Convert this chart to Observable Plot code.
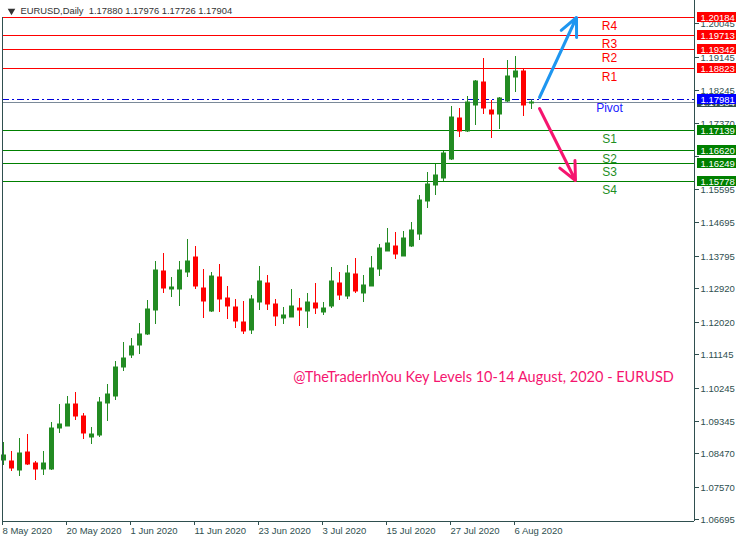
<!DOCTYPE html>
<html>
<head>
<meta charset="utf-8">
<script src="https://cdn.jsdelivr.net/npm/d3@7"></script>
<script src="https://cdn.jsdelivr.net/npm/@observablehq/plot@0.6"></script>
<style>
  html, body { margin: 0; padding: 0; background: #ffffff; }
  #chart { width: 740px; height: 542px; }
</style>
</head>
<body>
<div id="chart"></div>
<script>
// ---- data ----
const symbol = "EURUSD,Daily";
const dates = [
  "2020-05-08","2020-05-11","2020-05-12","2020-05-13","2020-05-14","2020-05-15",
  "2020-05-18","2020-05-19","2020-05-20","2020-05-21","2020-05-22",
  "2020-05-25","2020-05-26","2020-05-27","2020-05-28","2020-05-29",
  "2020-06-01","2020-06-02","2020-06-03","2020-06-04","2020-06-05",
  "2020-06-08","2020-06-09","2020-06-10","2020-06-11","2020-06-12",
  "2020-06-15","2020-06-16","2020-06-17","2020-06-18","2020-06-19",
  "2020-06-22","2020-06-23","2020-06-24","2020-06-25","2020-06-26",
  "2020-06-29","2020-06-30","2020-07-01","2020-07-02","2020-07-03",
  "2020-07-06","2020-07-07","2020-07-08","2020-07-09","2020-07-10",
  "2020-07-13","2020-07-14","2020-07-15","2020-07-16","2020-07-17",
  "2020-07-20","2020-07-21","2020-07-22","2020-07-23","2020-07-24",
  "2020-07-27","2020-07-28","2020-07-29","2020-07-30","2020-07-31",
  "2020-08-03","2020-08-04","2020-08-05","2020-08-06","2020-08-07",
  "2020-08-10"
];
const open = [
  1.0827,1.0824,1.0801,1.0848,1.0819,1.0803,
  1.0803,1.0914,1.0918,1.0978,1.0945,
  1.0890,1.0895,1.0981,1.1000,1.1076,
  1.1110,1.1135,1.1167,1.1231,1.1336,
  1.1288,1.1288,1.1334,1.1373,1.1290,
  1.1229,1.1319,1.1263,1.1239,1.1198,
  1.1178,1.1253,1.1303,1.1247,1.1210,
  1.1213,1.1236,1.1229,1.1249,1.1226,
  1.1240,1.1303,1.1269,1.1327,1.1277,
  1.1296,1.1342,1.1390,1.1403,1.1377,
  1.1404,1.1436,1.1525,1.1568,1.1587,
  1.1638,1.1747,1.1713,1.1782,1.1844,
  1.1769,1.1759,1.1793,1.1858,1.1874,
  1.17880
];
const high = [
  1.0875,1.0852,1.0886,1.0897,1.0824,1.0851,
  1.0929,1.0978,1.0999,1.1010,1.0953,
  1.0916,1.0996,1.1031,1.1093,1.1144,
  1.1155,1.1196,1.1257,1.1362,1.1384,
  1.1319,1.1362,1.1422,1.1403,1.1341,
  1.1333,1.1354,1.1295,1.1260,1.1256,
  1.1271,1.1349,1.1325,1.1260,1.1239,
  1.1287,1.1263,1.1276,1.1303,1.1252,
  1.1346,1.1333,1.1352,1.1371,1.1325,
  1.1376,1.1408,1.1451,1.1441,1.1443,
  1.1467,1.1540,1.1602,1.1624,1.1659,
  1.1780,1.1774,1.1807,1.1850,1.1909,
  1.1796,1.1804,1.1904,1.1914,1.1879,
  1.17976
];
const low = [
  1.0814,1.0798,1.0785,1.0812,1.0774,1.0787,
  1.0801,1.0900,1.0917,1.0935,1.0884,
  1.0871,1.0890,1.0933,1.0989,1.1067,
  1.1100,1.1113,1.1164,1.1194,1.1277,
  1.1266,1.1240,1.1320,1.1288,1.1210,
  1.1226,1.1226,1.1205,1.1183,1.1167,
  1.1167,1.1231,1.1231,1.1188,1.1194,
  1.1213,1.1188,1.1183,1.1221,1.1218,
  1.1237,1.1258,1.1261,1.1277,1.1253,
  1.1296,1.1323,1.1390,1.1369,1.1377,
  1.1401,1.1420,1.1506,1.1539,1.1579,
  1.1635,1.1697,1.1711,1.1729,1.1759,
  1.1694,1.1719,1.1790,1.1816,1.1754,
  1.17726
];
const close = [
  1.0839,1.0806,1.0846,1.0817,1.0803,1.0819,
  1.0913,1.0924,1.0978,1.0946,1.0900,
  1.0897,1.0983,1.1004,1.1077,1.1101,
  1.1134,1.1166,1.1233,1.1338,1.1291,
  1.1292,1.1338,1.1362,1.1296,1.1256,
  1.1322,1.1261,1.1242,1.1202,1.1175,
  1.1260,1.1309,1.1248,1.1215,1.1217,
  1.1241,1.1231,1.1252,1.1237,1.1236,
  1.1309,1.1272,1.1330,1.1283,1.1298,
  1.1344,1.1397,1.1411,1.1382,1.1424,
  1.1446,1.1527,1.1570,1.1594,1.1653,
  1.1750,1.1713,1.1790,1.1847,1.1773,
  1.1759,1.1801,1.1860,1.1874,1.1783,
  1.17904
];

const xTickDates  = ["2020-05-08","2020-05-20","2020-06-01","2020-06-11","2020-06-23","2020-07-03","2020-07-15","2020-07-27","2020-08-06"];
const xTickLabels = ["8 May 2020","20 May 2020","1 Jun 2020","11 Jun 2020","23 Jun 2020","3 Jul 2020","15 Jul 2020","27 Jul 2020","6 Aug 2020"];
const yTicks = [1.20045,1.19145,1.18245,1.17370,1.16470,1.15595,1.14695,1.13795,1.12920,1.12020,1.11145,1.10245,1.09345,1.08470,1.07570,1.06695];
const yTicksUnlabelled = [1.16470]; // covered by the level boxes in the reference

const levelNames  = ["R4","R3","R2","R1","Pivot","S1","S2","S3","S4"];
const levelValues = [1.20184,1.19713,1.19342,1.18823,1.17981,1.17139,1.16620,1.16249,1.15778];
const levelKinds  = ["R","R","R","R","P","S","S","S","S"];

const bidPrice = close[close.length - 1];

// arrows: [bar position, price] of tail and tip
const arrowNames   = ["up", "down"];
const arrowFromBar = [67.0, 67.0];
const arrowFromPx  = [1.18052, 1.17743];
const arrowToBar   = [71.6, 71.5];
const arrowToPx    = [1.20192, 1.15804];

const caption = "@TheTraderInYou Key Levels 10-14 August, 2020 - EURUSD";

// ---- styling ----
const UP = "#228b22", DOWN = "#ff0000";
const kindLine = {R: "#ff0000", P: "#0000dd", S: "#008000"};
const kindText = {R: "#ff0000", P: "#2020ff", S: "#1f8f1f"};
const kindBox  = {R: "#ff0000", P: "#0000ff", S: "#008000"};
const arrowColor = {up: "#1e96f0", down: "#f5156f"};
const AXIS = "#2f4f4f";
const FONT = "Liberation Sans, Arial, sans-serif";

const bars = dates.map((d, i) => ({i, date: d, open: open[i], high: high[i], low: low[i], close: close[i]}));
const levels = levelNames.map((n, k) => ({name: n, value: levelValues[k], kind: levelKinds[k]}));
const arrows = arrowNames.map((n, k) => ({name: n, x1: arrowFromBar[k], y1: arrowFromPx[k], x2: arrowToBar[k], y2: arrowToPx[k]}));
const xTicks = xTickDates.map(d => dates.indexOf(d));
const xLabelOf = new Map(xTicks.map((t, k) => [t, xTickLabels[k]]));
const colorOf = d => d.close >= d.open ? UP : DOWN;
const fmt5 = d3.format(".5f");

const xDomain = [-0.125, 86.375];
const yDomain = [1.066255, 1.206497];

const chart = Plot.plot({
  width: 740,
  height: 542,
  marginLeft: 2,
  marginRight: 46,
  marginTop: 0,
  marginBottom: 21,
  x: {type: "linear", domain: xDomain, axis: null, round: true},
  y: {type: "linear", domain: yDomain, axis: null, round: true},
  color: {type: "identity"},
  style: {background: "#ffffff", color: AXIS, fontFamily: FONT, fontSize: "9.5px"},
  marks: [
    // axes
    Plot.axisY(yTicks, {anchor: "right", tickSize: 4, tickPadding: 2,
      tickFormat: d => yTicksUnlabelled.includes(d) ? "" : fmt5(d),
      fontSize: 9.5, fontFamily: FONT, dy: 1, stroke: AXIS, fill: AXIS}),
    Plot.axisX(xTicks, {anchor: "bottom", tickSize: 4, tickPadding: 2, tickFormat: t => xLabelOf.get(t),
      textAnchor: "start", dx: -1, fontSize: 9.5, fontFamily: FONT, stroke: AXIS, fill: AXIS}),
    // level lines
    Plot.ruleY(levels.filter(d => d.kind !== "P"), {y: "value", stroke: d => kindLine[d.kind], strokeWidth: 1}),
    Plot.ruleY([bidPrice], {stroke: "#7a8a99", strokeWidth: 1}),
    Plot.ruleY(levels.filter(d => d.kind === "P"), {y: "value", stroke: d => kindLine[d.kind], strokeWidth: 1, strokeDasharray: "7,3,2,3"}),
    // candle wicks and bodies
    Plot.ruleX(bars, {x: "i", y1: "low", y2: "high", stroke: colorOf, strokeWidth: 1}),
    Plot.ruleX(bars, {x: "i", y1: d => Math.max(d.open, d.close), y2: d => Math.min(d.open, d.close),
      stroke: colorOf, strokeWidth: 5, insetTop: -0.5, insetBottom: -0.5}),
    // level names
    Plot.text(levels, {y: "value", text: "name", frameAnchor: "right", dx: -85, dy: 4, lineAnchor: "top",
      textAnchor: "middle", fill: d => kindText[d.kind], fontSize: 12, fontFamily: FONT}),
    // arrows
    Plot.arrow(arrows, {x1: "x1", y1: "y1", x2: "x2", y2: "y2", stroke: d => arrowColor[d.name],
      strokeWidth: 3, headLength: 10, headAngle: 50}),
    // caption
    Plot.text([caption], {frameAnchor: "top-left", dx: 481, dy: 371, text: d => d, textAnchor: "middle",
      fill: "#f5156f", fontSize: 14.5, fontFamily: "Lato, sans-serif"}),
    // frame (left, right, bottom)
    Plot.ruleX([xDomain[0]], {stroke: AXIS, strokeWidth: 1, insetTop: 17}),
    Plot.ruleX([xDomain[1]], {stroke: AXIS, strokeWidth: 1}),
    Plot.ruleY([yDomain[0]], {stroke: AXIS, strokeWidth: 1}),
    // price boxes on the right
    Plot.rect([bidPrice], {y1: d => d, y2: d => d, fill: "#2f4f4f", insetLeft: 695, insetRight: -42, insetTop: -5, insetBottom: -5}),
    Plot.text([bidPrice], {y: d => d, text: d => fmt5(d), frameAnchor: "right", dx: 6, textAnchor: "start",
      fill: "#ffffff", fontSize: 9.5, fontFamily: FONT}),
    Plot.rect(levels, {y1: "value", y2: "value", fill: d => kindBox[d.kind], insetLeft: 695, insetRight: -42, insetTop: -5, insetBottom: -5}),
    Plot.text(levels, {y: "value", text: d => fmt5(d.value), frameAnchor: "right", dx: 6, textAnchor: "start",
      fill: "#ffffff", fontSize: 9.5, fontFamily: FONT}),
    // title
    Plot.dot([0], {frameAnchor: "top-left", dx: 9, dy: 10.5, symbol: "triangle", rotate: 180, r: 2.8, fill: "#333333", stroke: null}),
    Plot.text([`${symbol}  ${fmt5(open.at(-1))} ${fmt5(high.at(-1))} ${fmt5(low.at(-1))} ${fmt5(close.at(-1))}`],
      {frameAnchor: "top-left", dx: 18, dy: 6.5, lineAnchor: "top", textAnchor: "start", text: d => d,
       fill: "#333333", fontSize: 9.4, fontFamily: FONT})
  ]
});
document.getElementById("chart").appendChild(chart);
</script>
</body>
</html>
